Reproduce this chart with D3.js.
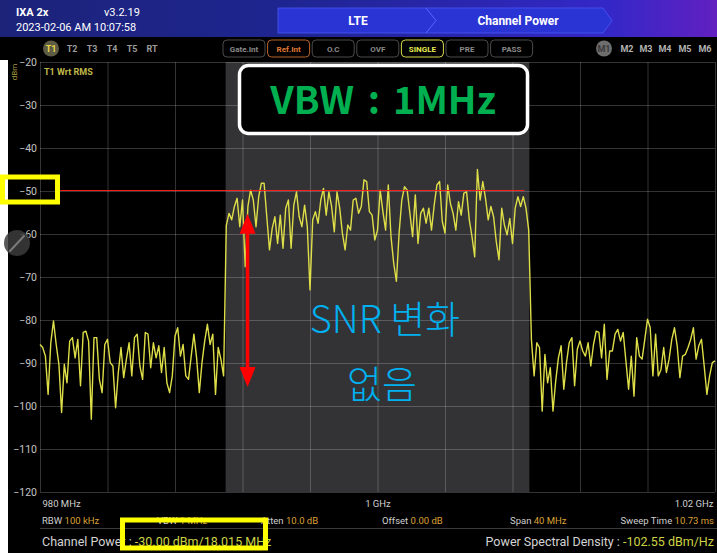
<!DOCTYPE html>
<html>
<head>
<meta charset="utf-8">
<script src="https://cdn.jsdelivr.net/npm/d3@7"></script>
<style>
  html, body { margin: 0; padding: 0; background: #000; overflow: hidden; }
  svg { display: block; font-family: Roboto, "Noto Sans", sans-serif; }
</style>
</head>
<body>
<div id="main"></div>
<script>
'use strict';
// - - - - - - - - - -

// data
const levelTicks = [-20, -30, -40, -50, -60, -70, -80, -90, -100, -110, -120];
const freqGrid = [980, 984, 988, 992, 996, 1000, 1004, 1008, 1012, 1016, 1020];
const freqLabelValues = [980, 1000, 1020];
const freqLabelTexts = ['980 MHz', '1 GHz', '1.02 GHz'];
const channelBand = [991, 1009];
const refLineSpan = [981.2, 1008.7];
const refLevel = -49.8;
const arrowFreq = 992.3;
const arrowLevels = [-55.3, -95.6];

// trace T1 (dBm), evenly spaced over 980..1020 MHz
const traceLeft = [
  -85.7, -86.4, -88.4, -97.3, -85.3, -80.2, -85.7, -90.3, -101.5, -90.3,
  -94.6, -84.9, -84.1, -88.8, -84.5, -95.3, -82.9, -82.6, -84.9, -103.1,
  -84.1, -84.1, -93.8, -96.9, -85.7, -84.5, -89.9, -90.7, -100.4, -92.2,
  -86.4, -93.4, -89.1, -85.3, -93.0, -84.1, -83.3, -90.7, -93.8, -82.9,
  -83.3, -91.1, -85.3, -88.8, -86.0, -92.2, -86.4, -94.6, -96.9, -93.0,
  -83.7, -81.8, -88.4, -85.7, -93.0, -93.8, -88.4, -83.3, -88.8, -96.9,
  -89.9, -84.9, -81.0, -85.7, -83.3, -97.3, -86.4, -89.1, -93.0
];
const traceChannel = [
  -58.0, -55.2, -56.7, -53.6, -51.7, -58.3, -52.1, -67.6, -53.6, -49.8,
  -52.1, -58.3, -51.3, -48.2, -48.2, -56.0, -63.7, -58.7, -56.0, -62.2,
  -55.6, -63.3, -54.0, -52.1, -63.3, -53.3, -50.2, -56.0, -58.3, -53.3,
  -58.3, -73.0, -56.7, -54.8, -57.5, -52.1, -49.4, -55.6, -50.2, -53.6,
  -59.5, -50.2, -54.0, -59.8, -63.7, -57.9, -59.1, -52.1, -51.7, -55.2,
  -53.6, -47.4, -47.8, -54.8, -55.6, -61.4, -59.1, -49.8, -54.8, -59.1,
  -48.6, -60.6, -66.8, -71.0, -59.8, -52.1, -49.0, -49.8, -55.2, -60.6,
  -50.9, -62.2, -55.2, -54.0, -57.5, -54.0, -59.1, -53.3, -48.6, -47.8,
  -57.1, -59.8, -48.6, -52.9, -55.2, -59.1, -52.5, -55.6, -50.5, -50.2,
  -56.7, -60.6, -65.3, -45.0, -52.1, -47.8, -51.7, -56.7, -53.6, -56.0,
  -61.8, -66.0, -54.0, -57.9, -60.2, -56.4, -62.2, -54.0, -51.3, -53.6,
  -51.3, -54.0, -59.1
];
const traceRight = [
  -84.5, -93.0, -85.3, -86.4, -101.2, -88.0, -94.6, -91.1, -101.2, -94.2,
  -88.8, -86.0, -96.1, -89.9, -85.3, -84.1, -95.3, -86.8, -84.9, -87.2,
  -88.4, -85.3, -90.7, -85.7, -82.6, -82.9, -88.8, -81.0, -93.8, -87.2,
  -87.2, -83.3, -82.2, -84.9, -82.9, -89.5, -96.1, -88.4, -97.7, -84.1,
  -88.4, -89.1, -84.5, -79.8, -81.8, -93.0, -83.3, -93.0, -91.5, -86.4,
  -92.2, -89.1, -84.5, -81.8, -86.0, -93.4, -88.4, -88.0, -86.4, -84.5,
  -81.8, -89.1, -86.0, -84.5, -90.7, -97.3, -93.0, -89.9, -89.5
];

// texts
const traceTabs = ['T1', 'T2', 'T3', 'T4', 'T5', 'RT'];
const statusButtons = ['Gate.Int', 'Ref.Int', 'O.C', 'OVF', 'SINGLE', 'PRE', 'PASS'];
const markerTabs = ['M1', 'M2', 'M3', 'M4', 'M5', 'M6'];
const settingNames = ['RBW', 'VBW', 'Atten', 'Offset', 'Span', 'Sweep Time'];
const settingValues = ['100 kHz', '1 MHz', '10.0 dB', '0.00 dB', '40 MHz', '10.73 ms'];

// declaration
let
  svg = undefined,
  xScale = undefined,
  yScale = undefined;

// configuration
const canvas = { context: '#main', width: 717, height: 553 };
const plot = { left: 40, right: 715, top: 62, bottom: 492 };

// methods
function setCanvas() {
  svg = d3.select(canvas.context)
    .append('svg')
    .attr('width', canvas.width)
    .attr('height', canvas.height);
  svg.append('rect')
    .attr('width', canvas.width).attr('height', canvas.height)
    .attr('fill', '#000');
}

function setScales() {
  xScale = d3.scaleLinear().domain([980, 1020]).range([plot.left, plot.right]);
  yScale = d3.scaleLinear().domain([-20, -120]).range([plot.top, plot.bottom]);
}

function drawHeader() {
  const defs = svg.append('defs');
  const grad = defs.append('linearGradient').attr('id', 'hdr');
  grad.append('stop').attr('offset', '0%').attr('stop-color', '#1c2379');
  grad.append('stop').attr('offset', '40%').attr('stop-color', '#1e2590');
  grad.append('stop').attr('offset', '85%').attr('stop-color', '#3427c8');
  grad.append('stop').attr('offset', '100%').attr('stop-color', '#6220c0');

  svg.append('rect')
    .attr('width', canvas.width).attr('height', 37)
    .attr('fill', 'url(#hdr)');

  svg.append('polygon')
    .attr('points', '278,8 603,8 612,20.5 603,33 278,33')
    .attr('fill', '#2a34d4')
    .attr('stroke', '#4a58f4').attr('stroke-width', 0.8);
  svg.append('polyline')
    .attr('points', '426,8 436,20.5 426,33')
    .attr('fill', 'none')
    .attr('stroke', '#5666ff').attr('stroke-width', 1);

  const t = svg.append('g').attr('fill', '#fff').attr('font-size', 11);
  t.append('text').attr('x', 16).attr('y', 16).attr('font-weight', 'bold').text('IXA 2x');
  t.append('text').attr('x', 104).attr('y', 16).text('v3.2.19');
  t.append('text').attr('x', 16).attr('y', 31).text('2023-02-06 AM 10:07:58');
  t.append('text').attr('x', 358).attr('y', 24.5).attr('font-size', 12)
    .attr('font-weight', 'bold').attr('text-anchor', 'middle').text('LTE');
  t.append('text').attr('x', 518).attr('y', 24.5).attr('font-size', 12)
    .attr('font-weight', 'bold').attr('text-anchor', 'middle').text('Channel Power');
}

function drawToolbar() {
  const g = svg.append('g').attr('font-size', 9).attr('font-weight', 'bold');

  // trace tabs
  const tabX = [51, 72, 92, 112, 132, 152];
  g.append('circle').attr('cx', tabX[0]).attr('cy', 48.5).attr('r', 8)
    .attr('fill', '#5e5c44');
  g.selectAll('.tab')
    .data(traceTabs)
    .enter()
    .append('text')
    .attr('x', (d, i) => tabX[i]).attr('y', 52)
    .attr('text-anchor', 'middle')
    .attr('fill', (d, i) => i === 0 ? '#e6d84a' : '#9a9a9a')
    .text(d => d);

  // status buttons
  const btn = g.selectAll('.btn')
    .data(statusButtons)
    .enter()
    .append('g')
    .attr('transform', (d, i) => 'translate(' + (223 + i * 44.6) + ',40)');
  btn.append('rect')
    .attr('width', 42).attr('height', 17).attr('rx', 4)
    .attr('fill', '#000')
    .attr('stroke', d => d === 'Ref.Int' ? '#b8642a' : d === 'SINGLE' ? '#d6d84a' : '#4a4a4a')
    .attr('stroke-width', 1);
  btn.append('text')
    .attr('x', 21).attr('y', 11.8)
    .attr('text-anchor', 'middle').attr('font-size', 8)
    .attr('fill', d => d === 'Ref.Int' ? '#e07a34' : d === 'SINGLE' ? '#e8ea50' : '#8a8a8a')
    .text(d => d);

  // markers
  const mX = [604, 627, 646, 665, 685, 705];
  g.append('circle').attr('cx', mX[0]).attr('cy', 48.5).attr('r', 8)
    .attr('fill', '#6e6e6e');
  g.selectAll('.mk')
    .data(markerTabs)
    .enter()
    .append('text')
    .attr('x', (d, i) => mX[i]).attr('y', 52)
    .attr('text-anchor', 'middle')
    .attr('fill', (d, i) => i === 0 ? '#3a3a3a' : '#b4b4b4')
    .text(d => d);
}

function drawGrid() {
  // channel band shading
  svg.append('rect')
    .attr('x', xScale(channelBand[0]))
    .attr('y', plot.top)
    .attr('width', xScale(channelBand[1]) - xScale(channelBand[0]))
    .attr('height', plot.bottom - plot.top)
    .attr('fill', '#333335');

  svg.append('g')
    .attr('class', 'grid')
    .attr('transform', 'translate(' + plot.left + ',0)')
    .call(d3.axisLeft(yScale).tickValues(levelTicks).tickSize(-(plot.right - plot.left)).tickFormat(''))
    .call(g => g.select('.domain').remove())
    .selectAll('line').attr('stroke', 'rgba(255,255,255,0.2)');

  svg.append('g')
    .attr('class', 'grid')
    .attr('transform', 'translate(0,' + plot.bottom + ')')
    .call(d3.axisBottom(xScale).tickValues(freqGrid).tickSize(-(plot.bottom - plot.top)).tickFormat(''))
    .call(g => g.select('.domain').remove())
    .selectAll('line').attr('stroke', 'rgba(255,255,255,0.2)');
}

function drawAxes() {
  const ya = svg.append('g')
    .attr('transform', 'translate(' + plot.left + ',0)')
    .call(d3.axisLeft(yScale).tickValues(levelTicks).tickSize(0).tickPadding(3).tickFormat(d3.format('d')));
  ya.select('.domain').remove();
  ya.selectAll('text')
    .attr('fill', '#c4c4c4')
    .attr('font-size', 10.5)
    .attr('font-family', 'Roboto, sans-serif');

  svg.append('text')
    .attr('transform', 'translate(17,72) rotate(-90)')
    .attr('text-anchor', 'middle')
    .attr('font-size', 8)
    .attr('fill', '#a89c3c')
    .text('dBm');

  svg.append('text')
    .attr('x', 44).attr('y', 75)
    .attr('font-size', 9).attr('font-weight', 'bold')
    .attr('fill', '#c0b84a')
    .text('T1 Wrt RMS');

  const xa = svg.append('g')
    .attr('transform', 'translate(0,' + plot.bottom + ')')
    .call(d3.axisBottom(xScale).tickValues(freqLabelValues).tickSize(0).tickPadding(8)
      .tickFormat((d, i) => freqLabelTexts[i]));
  xa.select('.domain').remove();
  xa.selectAll('text')
    .attr('fill', '#d0d0d0')
    .attr('font-size', 9.5)
    .attr('font-family', 'Roboto, sans-serif')
    .attr('text-anchor', (d, i) => i === 0 ? 'start' : i === freqLabelValues.length - 1 ? 'end' : 'middle')
    .attr('dx', (d, i) => i === 0 ? 2 : i === freqLabelValues.length - 1 ? -2 : 0);
}

function drawTrace() {
  const trace = traceLeft.concat(traceChannel, traceRight);
  const idx = d3.scaleLinear().domain([0, trace.length - 1]).range([980, 1020]);

  svg.append('path')
    .datum(trace)
    .attr('fill', 'none')
    .attr('stroke', '#dede48')
    .attr('stroke-width', 1.4)
    .attr('stroke-linejoin', 'round')
    .attr('d', d3.line()
      .x((d, i) => xScale(idx(i)))
      .y(d => yScale(d)));

  svg.append('line')
    .attr('x1', xScale(refLineSpan[0])).attr('x2', xScale(refLineSpan[1]))
    .attr('y1', Math.round(yScale(refLevel)) + 0.5).attr('y2', Math.round(yScale(refLevel)) + 0.5)
    .attr('stroke', '#ff1a1a').attr('stroke-width', 1.2);
}

function drawFooter() {
  const g = svg.append('g').attr('font-size', 9.5);
  const sx = [42, 157, 261, 382, 510, 714];
  const row = g.selectAll('.set')
    .data(settingNames)
    .enter()
    .append('text')
    .attr('x', (d, i) => sx[i]).attr('y', 524)
    .attr('text-anchor', (d, i) => i === settingNames.length - 1 ? 'end' : 'start')
    .attr('fill', '#cfcfcf');
  row.append('tspan').text(d => d + ' ');
  row.append('tspan').attr('fill', '#dca034').text((d, i) => settingValues[i]);

  svg.append('line')
    .attr('x1', 40).attr('x2', 717).attr('y1', 528.5).attr('y2', 528.5)
    .attr('stroke', '#3a3a3a');

  const cp = svg.append('text').attr('x', 42).attr('y', 546)
    .attr('font-size', 12.5).attr('fill', '#d4d4d4');
  cp.append('tspan').text('Channel Power : ');
  cp.append('tspan').attr('fill', '#cdd444').text('-30.00 dBm/18.015 MHz');

  const psd = svg.append('text').attr('x', 714).attr('y', 546)
    .attr('text-anchor', 'end')
    .attr('font-size', 12.5).attr('fill', '#d4d4d4');
  psd.append('tspan').text('Power Spectral Density : ');
  psd.append('tspan').attr('fill', '#cdd444').text('-102.55 dBm/Hz');
}

function drawAnnotations() {
  // white strip on the left edge
  svg.append('rect').attr('x', 0).attr('y', 60).attr('width', 8).attr('height', canvas.height - 60)
    .attr('fill', '#fff');

  // edit button
  svg.append('circle').attr('cx', 17).attr('cy', 243).attr('r', 13)
    .attr('fill', '#3c3c3c').attr('opacity', 0.85);
  svg.append('line').attr('x1', 10).attr('y1', 251).attr('x2', 24).attr('y2', 236)
    .attr('stroke', '#7a7a7a').attr('stroke-width', 2).attr('stroke-linecap', 'round');

  // VBW label box
  svg.append('rect')
    .attr('x', 239.5).attr('y', 65.5).attr('width', 288).attr('height', 68).attr('rx', 9)
    .attr('fill', '#000').attr('stroke', '#fff').attr('stroke-width', 3.5);
  const vbw = svg.append('g')
    .attr('font-family', '"Noto Sans CJK KR", "Noto Sans", sans-serif')
    .attr('font-size', 38).attr('font-weight', 'bold')
    .attr('fill', '#00b050');
  vbw.append('text').attr('x', 354).attr('y', 114).attr('text-anchor', 'end').text('VBW');
  vbw.append('text').attr('x', 374).attr('y', 114).attr('text-anchor', 'middle').text(':');
  vbw.append('text').attr('x', 393).attr('y', 114).attr('text-anchor', 'start').text('1MHz');

  // SNR arrow
  const ax = xScale(arrowFreq), y1 = yScale(arrowLevels[0]), y2 = yScale(arrowLevels[1]);
  svg.append('line')
    .attr('x1', ax).attr('x2', ax).attr('y1', y1 + 16).attr('y2', y2 - 16)
    .attr('stroke', '#ff0000').attr('stroke-width', 3.5);
  svg.append('polygon')
    .attr('points', [[ax, y1], [ax - 8, y1 + 20], [ax + 8, y1 + 20]].join(' '))
    .attr('fill', '#ff0000');
  svg.append('polygon')
    .attr('points', [[ax, y2], [ax - 8, y2 - 20], [ax + 8, y2 - 20]].join(' '))
    .attr('fill', '#ff0000');

  const note = svg.append('g')
    .attr('font-family', '"Noto Sans CJK KR", sans-serif')
    .attr('font-size', 38).attr('font-weight', 300)
    .attr('fill', '#00b0f0')
    .attr('text-anchor', 'middle');
  note.append('text').attr('x', 385).attr('y', 333).text('SNR 변화');
  note.append('text').attr('x', 382).attr('y', 398).text('없음');

  // yellow highlight boxes
  svg.append('rect')
    .attr('x', 2.5).attr('y', 177).attr('width', 55).attr('height', 25)
    .attr('fill', 'none').attr('stroke', '#ffff00').attr('stroke-width', 5);
  svg.append('rect')
    .attr('x', 122.5).attr('y', 520).attr('width', 143).attr('height', 28)
    .attr('fill', 'none').attr('stroke', '#ffff00').attr('stroke-width', 5);
}

// control
setCanvas();
setScales();
drawHeader();
drawToolbar();
drawGrid();
drawTrace();
drawAxes();
drawFooter();
drawAnnotations();

// - - - - - - - - - -
</script>
</body>
</html>
